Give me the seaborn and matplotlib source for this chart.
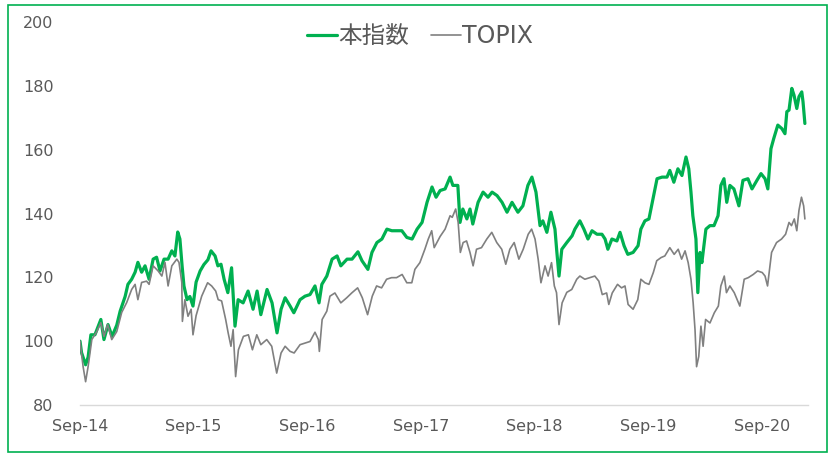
import pandas as pd
import matplotlib
matplotlib.use("Agg")
import matplotlib.pyplot as plt
import matplotlib.dates as mdates
import seaborn as sns
from matplotlib.patches import Rectangle

# -----------------------------------
# Data
# days counted from 2014-09-01
# -----------------------------------

green_days = [
    0, 5, 18, 26, 35, 48, 67, 77, 90, 103, 118, 129, 145, 154, 166, 177,
    186, 198, 209, 222, 235, 246, 257, 270, 283, 295, 305, 314, 321, 328,
    334, 344, 353, 363, 373, 386, 398, 411, 421, 434, 443, 453, 463, 475,
    487, 498, 508, 524, 540, 556, 569, 581, 601, 617, 633, 646, 659, 675,
    687, 707, 723, 739, 755, 768, 777, 793, 810, 826, 838, 858, 874, 893,
    906, 925, 938, 954, 970, 986, 1002, 1018, 1034, 1050, 1067, 1083, 1099,
    1115, 1131, 1144, 1157, 1173, 1189, 1198, 1214, 1221, 1230, 1243, 1253,
    1262, 1279, 1295, 1311, 1324, 1340, 1356, 1372, 1388, 1407, 1423, 1439,
    1452, 1465, 1478, 1487, 1500, 1513, 1526, 1532, 1539, 1548, 1564, 1581,
    1590, 1606, 1619, 1632, 1645, 1661, 1677, 1687, 1696, 1709, 1725, 1735,
    1748, 1760, 1777, 1793, 1802, 1815, 1828, 1841, 1854, 1870, 1886, 1895,
    1908, 1921, 1934, 1947, 1956, 1963, 1969, 1979, 1985, 1992, 1998, 2011,
    2024, 2037, 2050, 2059, 2069, 2078, 2088, 2101, 2117, 2130, 2146, 2159,
    2175, 2188, 2201, 2210, 2220, 2229, 2242, 2255, 2265, 2271, 2278, 2287,
    2294, 2303, 2310, 2319, 2323, 2329,
]
green_vals = [
    100.0, 96.4, 92.6, 95.0, 102.0, 102.0, 106.8, 100.5, 105.2, 101.5, 105.0,
    109.4, 114.0, 117.8, 119.4, 121.6, 124.7, 121.6, 123.6, 119.4, 125.7,
    126.3, 122.0, 125.7, 125.7, 128.3, 126.7, 134.2, 132.0, 123.6, 117.3,
    113.0, 114.0, 111.0, 118.5, 122.0, 124.0, 125.5, 128.3, 126.7, 123.6,
    124.1, 119.4, 115.2, 123.0, 104.7, 113.0, 112.0, 115.7, 110.0, 115.7,
    108.3, 116.2, 112.0, 102.6, 110.0, 113.6, 111.0, 108.9, 113.0, 114.1,
    114.6, 117.3, 112.0, 117.8, 120.4, 125.7, 126.7, 123.6, 125.7, 125.7,
    128.0, 125.2, 122.5, 127.8, 130.9, 132.0, 135.1, 134.6, 134.6, 134.6,
    132.5, 132.0, 135.1, 137.2, 143.5, 148.3, 145.1, 147.2, 147.7, 151.4,
    148.8, 148.8, 137.2, 141.4, 138.3, 141.4, 136.7, 143.5, 146.7, 145.1,
    146.7, 145.6, 143.5, 140.4, 143.5, 140.4, 142.4, 148.8, 151.4, 146.7,
    136.2, 137.7, 134.1, 140.4, 135.1, 128.0, 120.4, 128.8, 130.9, 133.0,
    135.1, 137.7, 135.1, 132.0, 134.6, 133.5, 133.5, 132.0, 128.8, 132.0,
    131.4, 134.1, 129.9, 127.2, 127.8, 129.9, 135.1, 137.7, 138.3, 144.6,
    150.9, 151.4, 151.4, 153.5, 149.8, 154.0, 151.9, 157.7, 154.0, 146.7,
    139.3, 132.0, 115.2, 127.8, 124.6, 135.1, 136.2, 136.2, 139.3, 148.8,
    150.9, 143.5, 148.8, 147.7, 142.4, 150.4, 150.9, 147.7, 150.4, 152.5,
    150.9, 147.7, 160.3, 163.5, 167.7, 166.6, 165.0, 171.9, 172.4, 179.2,
    177.1, 172.9, 176.6, 178.1, 175.0, 168.2,
]

topix_days = [
    0, 10, 18, 26, 38, 54, 67, 77, 89, 102, 118, 134, 150, 166, 177, 186,
    198, 214, 222, 235, 251, 263, 273, 283, 295, 311, 318, 327, 329, 337,
    347, 357, 363, 373, 391, 410, 423, 436, 444, 455, 468, 476, 485, 492,
    500, 509, 525, 541, 554, 568, 581, 600, 616, 632, 646, 659, 675, 688,
    707, 723, 739, 755, 766, 769, 778, 793, 803, 819, 838, 857, 873, 892,
    907, 924, 939, 953, 969, 985, 1001, 1017, 1035, 1050, 1066, 1076, 1092,
    1108, 1119, 1130, 1138, 1157, 1173, 1189, 1196, 1207, 1215, 1222, 1231,
    1242, 1253, 1263, 1274, 1290, 1307, 1323, 1339, 1355, 1368, 1381, 1395,
    1410, 1424, 1440, 1451, 1462, 1472, 1481, 1494, 1504, 1515, 1524, 1531,
    1539, 1549, 1564, 1580, 1596, 1606, 1622, 1638, 1654, 1667, 1678, 1692,
    1699, 1710, 1727, 1740, 1751, 1761, 1777, 1792, 1802, 1815, 1828, 1842,
    1853, 1867, 1879, 1895, 1909, 1922, 1933, 1944, 1954, 1963, 1970, 1976,
    1981, 1988, 1995, 2002, 2010, 2024, 2038, 2051, 2059, 2070, 2077, 2088,
    2102, 2120, 2134, 2147, 2163, 2177, 2192, 2201, 2209, 2222, 2238, 2254,
    2267, 2278, 2286, 2295, 2303, 2310, 2318, 2325, 2329,
]
topix_vals = [
    100.0, 92.0, 87.3, 92.0, 100.5, 103.0, 105.8, 101.5, 105.2, 100.5, 103.0,
    109.0, 112.1, 116.2, 117.8, 113.0, 118.4, 118.8, 117.8, 123.6, 122.0,
    120.4, 124.7, 117.3, 123.6, 125.7, 124.7, 118.4, 106.2, 113.0, 107.8,
    110.0, 102.0, 108.0, 114.1, 118.3, 117.3, 115.7, 113.0, 112.6, 106.8,
    102.6, 98.4, 103.6, 88.9, 97.3, 101.5, 102.0, 97.3, 102.0, 98.9, 100.5,
    98.4, 90.0, 96.3, 98.4, 96.8, 96.3, 98.9, 99.4, 99.9, 102.8, 100.5, 96.8,
    106.8, 109.4, 114.1, 115.1, 112.0, 113.6, 115.1, 116.7, 113.6, 108.3,
    114.1, 117.3, 116.7, 119.4, 119.9, 119.9, 120.9, 118.3, 118.3, 122.5,
    124.6, 128.8, 132.0, 134.6, 129.3, 132.8, 135.1, 139.3, 138.8, 141.4,
    137.2, 127.8, 130.9, 131.4, 127.8, 123.6, 128.8, 129.3, 132.0, 134.1,
    130.9, 128.8, 124.1, 128.8, 130.9, 125.7, 128.8, 133.5, 135.1, 132.0,
    125.7, 118.3, 123.6, 120.4, 124.6, 117.3, 115.2, 105.2, 112.0, 115.3,
    116.2, 119.4, 120.4, 119.4, 119.9, 120.4, 118.8, 114.6, 115.1, 111.5,
    115.1, 117.8, 116.7, 117.3, 111.5, 110.0, 113.0, 119.4, 118.3, 117.8,
    121.5, 125.2, 126.2, 126.7, 129.3, 127.2, 128.8, 125.7, 128.3, 124.6,
    119.4, 112.0, 103.6, 92.0, 95.2, 104.7, 98.4, 106.8, 105.7, 108.9, 111.0,
    117.3, 120.4, 115.2, 117.3, 115.2, 111.0, 119.4, 119.9, 120.9, 122.0,
    121.5, 120.4, 117.3, 127.8, 130.9, 132.0, 133.5, 137.2, 136.2, 138.3,
    134.6, 141.0, 145.1, 142.4, 138.3,
]

series_names = ["本指数", "TOPIX"]
y_ticks = [80, 100, 120, 140, 160, 180, 200]

base = pd.Timestamp("2014-09-01")
df_green = pd.DataFrame({
    "date": base + pd.to_timedelta(green_days, unit="D"),
    "value": green_vals,
})
df_topix = pd.DataFrame({
    "date": base + pd.to_timedelta(topix_days, unit="D"),
    "value": topix_vals,
})

# -----------------------------------
# Plot
# -----------------------------------

sns.set_theme(style="white")
plt.rcParams["font.family"] = ["DejaVu Sans", "Noto Sans CJK JP"]

text_color = "#595959"

fig = plt.figure(figsize=(8.3, 4.54), dpi=100)
ax = fig.add_axes([80 / 830, 1 - 405 / 454, 728 / 830, 383 / 454])

sns.lineplot(data=df_green, x="date", y="value", color="#00B050",
             linewidth=2.3, label=series_names[0], ax=ax)
sns.lineplot(data=df_topix, x="date", y="value", color="#808080",
             linewidth=1.2, label=series_names[1], ax=ax)

ax.set_xlim(base, base + pd.Timedelta(days=2339))
ax.set_ylim(80, 200)
ax.set_yticks(y_ticks)
ax.set_xlabel("")
ax.set_ylabel("")

ax.xaxis.set_major_locator(mdates.MonthLocator(bymonth=9, bymonthday=1))
ax.xaxis.set_major_formatter(mdates.DateFormatter("%b-%y"))

for side in ["top", "right", "left"]:
    ax.spines[side].set_visible(False)
ax.spines["bottom"].set_color("#d9d9d9")
ax.spines["bottom"].set_linewidth(1.0)

ax.tick_params(axis="x", length=5, width=1, color="#d9d9d9", pad=5,
               labelsize=11.5, labelcolor=text_color)
ax.tick_params(axis="y", length=0, pad=19, labelsize=11.5,
               labelcolor=text_color)

leg = ax.legend(loc="center", bbox_to_anchor=(0.467, 0.963), ncol=2,
                frameon=False, fontsize=17, handlelength=1.3,
                handletextpad=0.05, columnspacing=0.9)
for t in leg.get_texts():
    t.set_color(text_color)

# green frame around the whole chart
fig.patches.append(Rectangle((8 / 830, 1 - 452 / 454), 819 / 830, 447 / 454,
                             transform=fig.transFigure, fill=False,
                             edgecolor="#00B050", linewidth=1.2))

fig.savefig("out.png", dpi=100)
plt.close(fig)
